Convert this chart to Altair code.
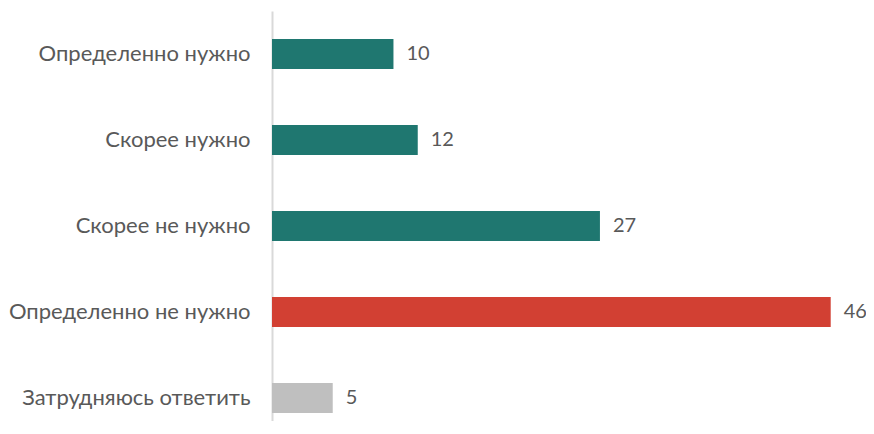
import altair as alt
import pandas as pd

categories = ["Определенно нужно", "Скорее нужно", "Скорее не нужно",
              "Определенно не нужно", "Затрудняюсь ответить"]
values = [10, 12, 27, 46, 5]
colors = ["#1F7770", "#1F7770", "#1F7770", "#D24033", "#BFBFBF"]

df = pd.DataFrame({"cat": categories, "val": values, "color": colors})

FONT = "Lato"

y = alt.Y("cat:N", sort=categories,
          scale=alt.Scale(paddingInner=0.65, paddingOuter=0.325, range=[0, 430]),
          axis=alt.Axis(title=None, ticks=False, labelPadding=22, labelLimit=0,
                        labelFontSize=22, labelColor="#595959", labelFont=FONT,
                        domainColor="#D9D9D9", domainWidth=2))
x = alt.X("val:Q", scale=alt.Scale(domain=[0, 48], nice=False), axis=None)

bars = alt.Chart(df).mark_bar().encode(
    x=x, y=y, color=alt.Color("color:N", scale=None))

text = alt.Chart(df).mark_text(align="left", dx=13, fontSize=20,
                               color="#595959", font=FONT).encode(
    x=x, y=y, text="val:Q")

chart = (bars + text).properties(
    width=583, height=410,
    autosize=alt.AutoSizeParams(type="none"),
    padding={"left": 264, "top": 3, "right": 11, "bottom": 0},
).configure_view(stroke=None)

chart.save("out.html", embed_options={"renderer": "svg", "actions": False})
